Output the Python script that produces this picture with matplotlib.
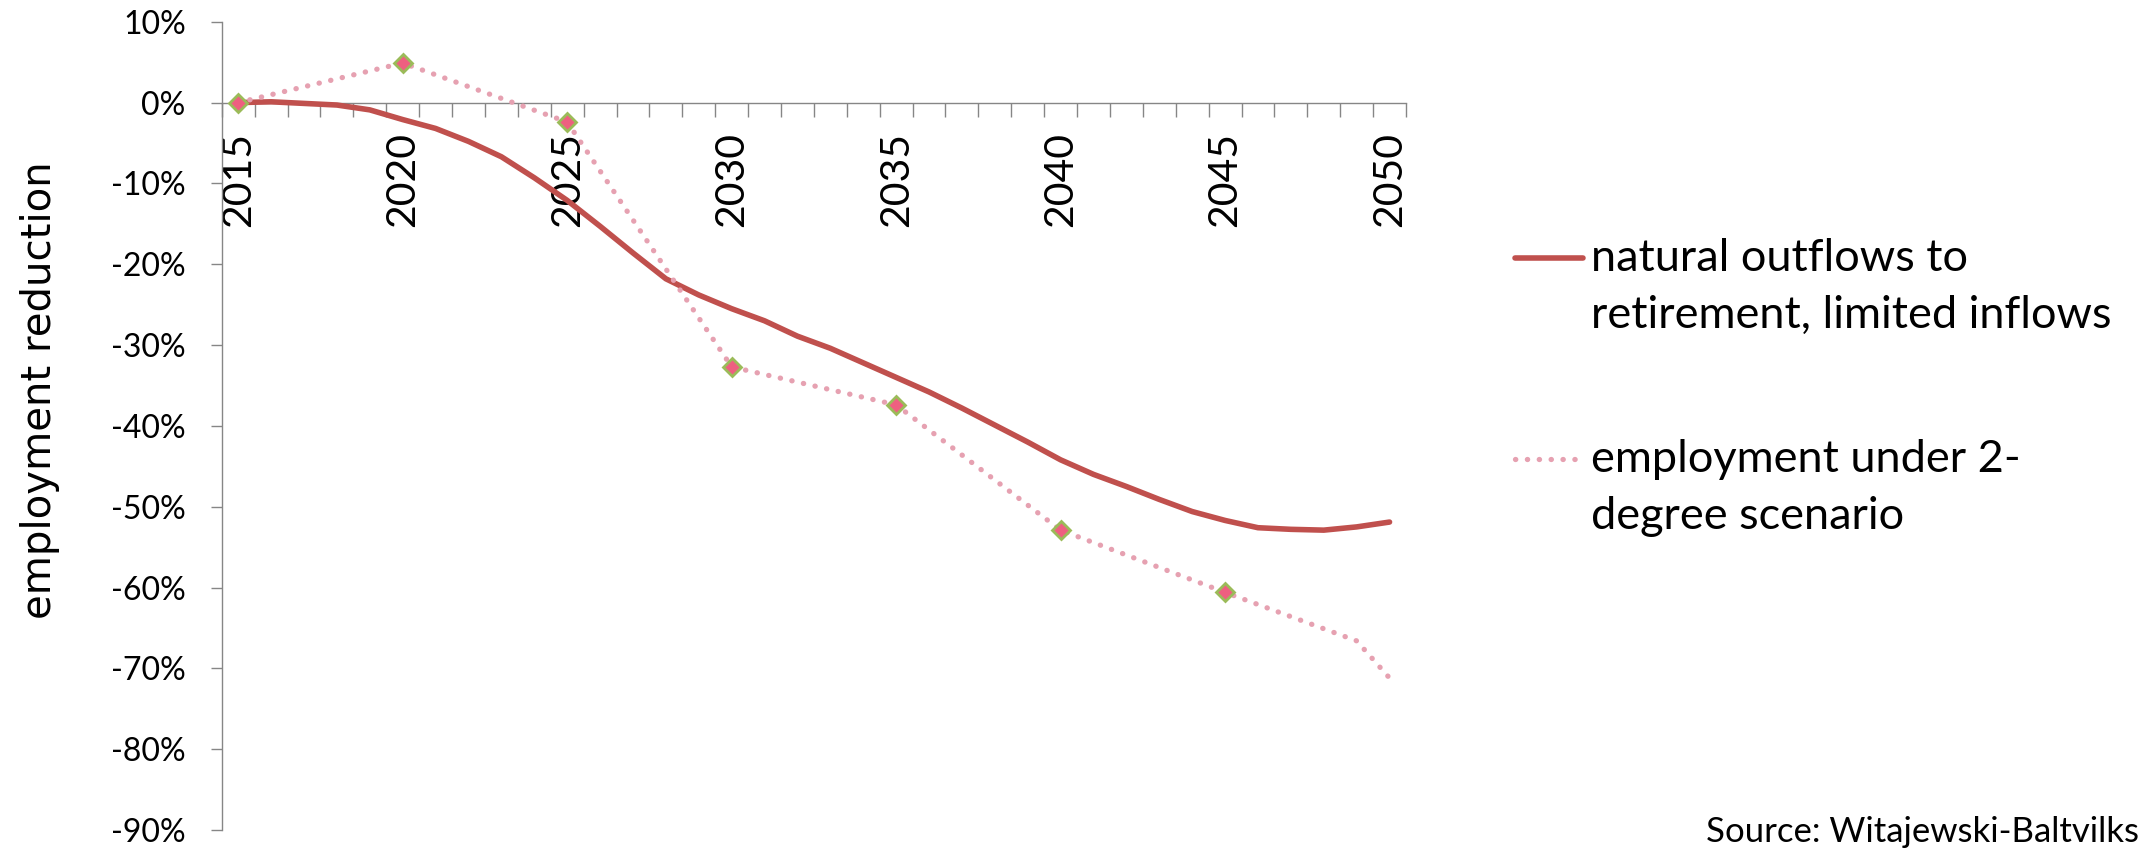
import matplotlib.pyplot as plt
from matplotlib.lines import Line2D
import numpy as np

plt.rcParams['font.family'] = ['Lato', 'DejaVu Sans']

# data (percent change of employment vs 2015)
years = list(range(2015, 2051))
natural_outflows = [0.0, 0.1, -0.1, -0.3, -0.9, -2.1, -3.2, -4.8, -6.7, -9.3,
                    -12.1, -15.3, -18.6, -21.8, -23.8, -25.5, -27.0, -28.9, -30.4, -32.2,
                    -34.0, -35.8, -37.8, -39.9, -42.0, -44.2, -46.0, -47.5, -49.1, -50.6,
                    -51.7, -52.6, -52.8, -52.9, -52.5, -51.9]
two_degree_years = [2015, 2020, 2025, 2030, 2035, 2040, 2045, 2049, 2050]
two_degree = [0.0, 4.9, -2.4, -32.7, -37.4, -52.9, -60.6, -66.6, -71.2]
marker_years = [2015, 2020, 2025, 2030, 2035, 2040, 2045]
label_years = [2015, 2020, 2025, 2030, 2035, 2040, 2045, 2050]
y_ticks = [10, 0, -10, -20, -30, -40, -50, -60, -70, -80, -90]

names = ["natural outflows to\nretirement, limited inflows",
         "employment under 2-\ndegree scenario"]

red = '#C0504D'
pink = '#E6A1B1'
grey = '#868686'

fig = plt.figure(figsize=(21.41, 8.51), dpi=100)
ax = fig.add_axes([0.1036, 0.0247, 0.5531, 0.9497])

x_nat = [years.index(y) for y in years]
x_two = [years.index(y) for y in two_degree_years]
x_mark = [years.index(y) for y in marker_years]
y_mark = [two_degree[two_degree_years.index(y)] for y in marker_years]

ax.plot(x_nat, natural_outflows, color=red, lw=4, solid_capstyle='round', zorder=3)
ax.plot(x_two, two_degree, color=pink, lw=3.8, linestyle=(0, (0.05, 2.2)),
        dash_capstyle='round', zorder=4)
ax.plot(x_mark, y_mark, linestyle='none', marker='D', ms=9,
        mfc='#EE5F80', mec='#9BBB59', mew=2, zorder=5)

ax.set_xlim(-0.5, len(years) - 0.5)
ax.set_ylim(-90, 10)

for s in ['top', 'right']:
    ax.spines[s].set_visible(False)
ax.spines['bottom'].set_position(('data', 0))
for s in ['left', 'bottom']:
    ax.spines[s].set_color(grey)
    ax.spines[s].set_linewidth(1.0)

ax.set_xticks([years.index(y) for y in label_years])
ax.set_xticklabels([str(y) for y in label_years], rotation=90, fontsize=29.5)
ax.set_xticks(np.arange(-0.5, len(years)), minor=True)
ax.tick_params(axis='x', which='major', length=0, pad=21)
ax.tick_params(axis='x', which='minor', length=10, width=1.0, color=grey, direction='out')

ax.set_yticks(y_ticks)
ax.set_yticklabels([f"{v}%" for v in y_ticks], fontsize=23)
ax.tick_params(axis='y', length=8, width=1.0, color=grey, direction='out', pad=18)

fig.text(40 / 2141, 1 - 390 / 851, "employment reduction", rotation=90,
         ha='center', va='center', fontsize=29, family='DejaVu Sans')

# legend drawn by hand so the handle sits on the first text line
fig.add_artist(Line2D([0.7076, 0.7394], [0.6968, 0.6968], transform=fig.transFigure,
                      color=red, lw=4, solid_capstyle='round'))
fig.add_artist(Line2D([0.7076, 0.7394], [0.4606, 0.4606], transform=fig.transFigure,
                      color=pink, lw=3.8, linestyle=(0, (0.05, 2.2)), dash_capstyle='round'))
fig.text(0.7431, 0.7203, names[0], ha='left', va='top', fontsize=32.5, linespacing=1.48)
fig.text(0.7431, 0.4840, names[1], ha='left', va='top', fontsize=32.5, linespacing=1.48)

fig.text(1706 / 2141, 0.004, "Source: Witajewski-Baltvilks", ha='left', va='bottom',
         fontsize=25)

fig.savefig('out.png', dpi=100)
